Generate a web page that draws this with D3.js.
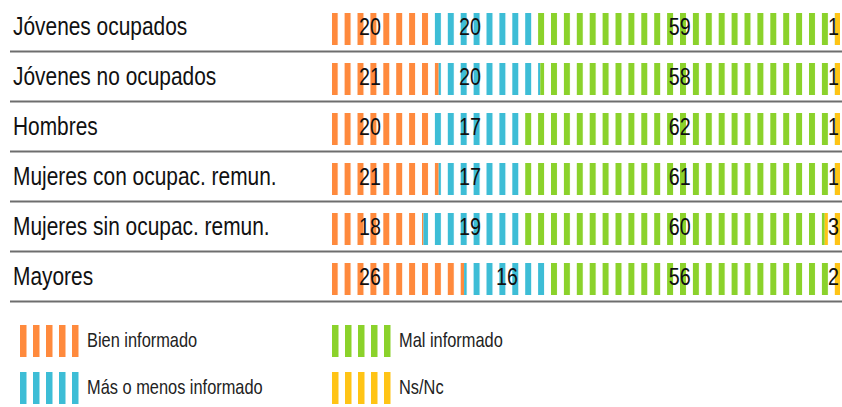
<!DOCTYPE html>
<html>
<head>
<meta charset="utf-8" />
<title>Información por grupo</title>
<script src="https://d3js.org/d3.v7.min.js"></script>
<style>
    body { margin: 0; background: #fff; }
    text { font-family: "Liberation Sans", Arial, sans-serif; }
</style>
</head>
<body>
<div id="the-chart"></div>
<script>
    var categories = ["Jóvenes ocupados", "Jóvenes no ocupados", "Hombres",
        "Mujeres con ocupac. remun.", "Mujeres sin ocupac. remun.", "Mayores"];
    var bien = [20, 21, 20, 21, 18, 26],
        masMenos = [20, 20, 17, 17, 19, 16],
        mal = [59, 58, 62, 61, 60, 56],
        nsnc = [1, 1, 1, 1, 3, 2];
    var seriesNames = ["Bien informado", "Más o menos informado", "Mal informado", "Ns/Nc"];
    var colors = ["#ff8a3d", "#3dbdd6", "#8bd22b", "#ffc416"];

    var keys = ["bien", "masMenos", "mal", "nsnc"];
    var rows = categories.map(function (c, i) {
        return { cat: c, bien: bien[i], masMenos: masMenos[i], mal: mal[i], nsnc: nsnc[i] };
    });
    var stacked = d3.stack().keys(keys)(rows);

    var svg = d3.select("#the-chart").append("svg")
        .attr("width", 842)
        .attr("height", 407);

    var x = d3.scaleLinear().domain([0, 100]).range([332, 840]),
        y = d3.scaleBand().domain(categories).range([0, 300]);

    // condensed look: plain sans squeezed horizontally
    var squeeze = 0.82;
    function place(px, py) {
        return "translate(" + px + "," + py + ") scale(" + squeeze + ",1)";
    }

    // striped fills, one pattern per colour, continuous across the bar
    var pitch = 12.9, stripe = 6, ox = 331.7;
    var defs = svg.append("defs");
    colors.forEach(function (col, i) {
        var p = defs.append("pattern")
            .attr("id", "stripes" + i)
            .attr("patternUnits", "userSpaceOnUse")
            .attr("x", ox).attr("y", 0)
            .attr("width", pitch).attr("height", 407);
        p.append("rect").attr("width", stripe).attr("height", 407).attr("fill", col);
    });
    // legend swatches sit in translated groups, so their pattern starts at 0
    colors.forEach(function (col, i) {
        var p = defs.append("pattern")
            .attr("id", "legend" + i)
            .attr("patternUnits", "userSpaceOnUse")
            .attr("x", 0).attr("y", 0)
            .attr("width", 13).attr("height", 407);
        p.append("rect").attr("width", 6.5).attr("height", 407).attr("fill", col);
    });

    // row labels and separators
    svg.append("g").selectAll("text.cat")
        .data(categories)
        .enter().append("text")
        .attr("class", "cat")
        .attr("transform", function (d) { return place(13, y(d) + 35); })
        .attr("font-size", 25.5)
        .attr("fill", "#111")
        .text(function (d) { return d; });

    svg.append("g").selectAll("line")
        .data(categories)
        .enter().append("line")
        .attr("x1", 10).attr("x2", 842)
        .attr("y1", function (d) { return y(d) + 51.5; })
        .attr("y2", function (d) { return y(d) + 51.5; })
        .attr("stroke", "#6e6e6e")
        .attr("stroke-width", 2.2);

    // bars
    var layers = svg.append("g").selectAll("g.layer")
        .data(stacked)
        .enter().append("g")
        .attr("class", "layer")
        .attr("fill", function (d, i) { return "url(#stripes" + i + ")"; });

    layers.selectAll("rect")
        .data(function (d) { return d; })
        .enter().append("rect")
        .attr("x", function (d) { return x(d[0]); })
        .attr("y", function (d) { return y(d.data.cat) + 13; })
        .attr("width", function (d) { return x(d[1]) - x(d[0]); })
        .attr("height", 32);

    // value labels
    function labelX(si, d) {
        if (si === 0) return x(d[0]) + 27;
        if (si === 1) return d[0] < 25 ? x(25) : x(d[0]) + 32;
        if (si === 2) return x(66.3);
        return x(100) - 12;
    }
    layers.selectAll("text")
        .data(function (d, si) { return d.map(function (v) { return { v: v, si: si }; }); })
        .enter().append("text")
        .attr("transform", function (d) { return place(labelX(d.si, d.v), y(d.v.data.cat) + 35); })
        .attr("font-size", 24)
        .attr("fill", "#111")
        .text(function (d) { return d.v[1] - d.v[0]; });

    // legend
    var legend = svg.append("g").selectAll("g")
        .data(seriesNames)
        .enter().append("g")
        .attr("transform", function (d, i) {
            return "translate(" + (i < 2 ? 20 : 332) + "," + (i % 2 ? 372 : 325) + ")";
        });
    legend.append("rect")
        .attr("width", 60).attr("height", 32)
        .attr("fill", function (d, i) { return "url(#legend" + i + ")"; });
    legend.append("text")
        .attr("transform", place(67, 22))
        .attr("font-size", 20)
        .attr("fill", "#222")
        .text(function (d) { return d; });
</script>
</body>
</html>
